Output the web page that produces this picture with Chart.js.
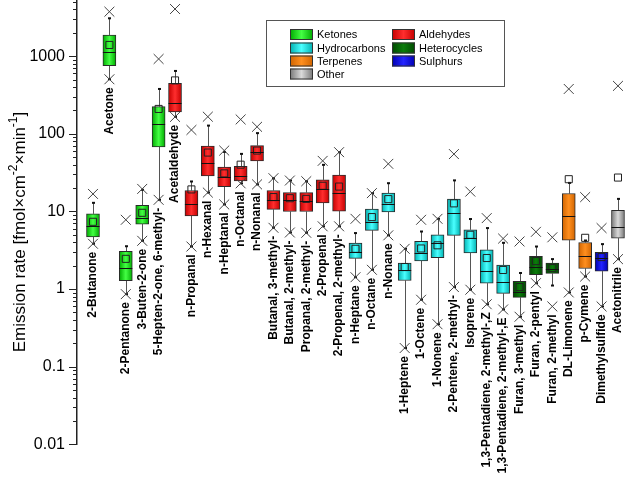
<!DOCTYPE html>
<html lang="en">
<head>
<meta charset="UTF-8" />
<title>Emission rate</title>
<script src="https://cdn.jsdelivr.net/npm/chart.js"></script>
<style>
  body { margin: 0; background: #fff; }
  canvas { display: block; }
</style>
</head>
<body>
<canvas id="chart" width="627" height="479"></canvas>
<script>
const categories = [
  "2-Butanone", "Acetone", "2-Pentanone", "3-Buten-2-one", "5-Hepten-2-one, 6-methyl-",
  "Acetaldehyde", "n-Propanal", "n-Hexanal", "n-Heptanal", "n-Octanal", "n-Nonanal",
  "Butanal, 3-methyl-", "Butanal, 2-methyl-", "Propanal, 2-methyl-", "2-Propenal", "2-Propenal, 2-methyl-",
  "n-Heptane", "n-Octane", "n-Nonane", "1-Heptene", "1-Octene", "1-Nonene",
  "2-Pentene, 2-methyl-", "Isoprene", "1,3-Pentadiene, 2-methyl-,Z", "1,3-Pentadiene, 2-methyl-,E",
  "Furan, 3-methyl", "Furan, 2-pentyl", "Furan, 2-methyl",
  "DL-Limonene", "p-Cymene", "Dimethylsulfide", "Acetonitrile"
];
const groups = [
  "Ketones", "Ketones", "Ketones", "Ketones", "Ketones",
  "Aldehydes", "Aldehydes", "Aldehydes", "Aldehydes", "Aldehydes", "Aldehydes",
  "Aldehydes", "Aldehydes", "Aldehydes", "Aldehydes", "Aldehydes",
  "Hydrocarbons", "Hydrocarbons", "Hydrocarbons", "Hydrocarbons", "Hydrocarbons", "Hydrocarbons",
  "Hydrocarbons", "Hydrocarbons", "Hydrocarbons", "Hydrocarbons",
  "Heterocycles", "Heterocycles", "Heterocycles",
  "Terpenes", "Terpenes", "Sulphurs", "Other"
];
// crosses (high / low), whisker ends, box edges, median and mean
const p99 =         [16.8, 3740, 7.8, 19.5, 920, 4050, 112, 166, 60.8, 153, 123, 26.8, 25.0, 24.5, 44.8, 58, 8.03, 17.2, 41.0, 3.30, 7.8, 8.03, 54.8, 18.0, 8.2, 4.47, 4.10, 5.46, 4.64, 378, 15.3, 6.1, 414];
const whiskerHigh = [12.9, 3075, 3.56, 19.0, 378, 645, 24.3, 127.5, 58.5, 55.1, 102, 26.8, 25.0, 24.5, 39.8, 58, 5.26, 17.2, 23.1, 3.30, 5.51, 8.03, 25.1, 7.98, 6.1, 3.94, 1.61, 3.53, 2.43, 23.3, 4.22, 3.79, 14.5];
const q3 =          [9.31, 1875, 3.05, 12.0, 224, 448, 18.6, 69.2, 37.2, 38.1, 70.5, 18.6, 17.5, 17.5, 25.5, 29.3, 3.91, 10.7, 17.2, 2.16, 4.12, 5.0, 14.4, 5.80, 3.2, 2.04, 1.26, 2.63, 2.16, 17.0, 3.98, 2.98, 10.3];
const median =      [6.53, 1122, 1.88, 8.27, 133, 248, 12.5, 41.9, 27.9, 28.7, 57.6, 13.9, 14.0, 13.8, 19.4, 17.4, 2.98, 7.35, 12.3, 1.77, 2.91, 3.88, 9.51, 4.57, 1.72, 1.22, 0.904, 1.95, 1.81, 8.78, 2.68, 2.48, 6.34];
const q1 =          [4.71, 755, 1.28, 6.87, 67.8, 191, 8.78, 28.7, 20.9, 24.8, 44.8, 10.6, 9.97, 9.97, 12.9, 10.1, 2.48, 5.71, 9.88, 1.29, 2.31, 2.53, 4.92, 2.91, 1.19, 0.878, 0.78, 1.53, 1.59, 4.27, 1.84, 1.70, 4.53];
const whiskerLow =  [3.83, 504, 0.86, 4.18, 14.1, 165, 3.53, 17.5, 12.3, 23.0, 22.3, 6.15, 5.35, 5.3, 6.43, 6.43, 1.42, 1.77, 4.92, 0.174, 0.728, 0.352, 1.06, 0.98, 0.637, 0.546, 0.44, 1.19, 1.11, 0.904, 1.45, 0.597, 2.43];
const p1 =          [3.83, 504, 0.86, 4.18, 14.1, 165, 3.53, 17.5, 12.3, 23.0, 22.3, 6.15, 5.35, 5.3, 6.43, 6.43, 1.42, 1.77, 4.92, 0.174, 0.728, 0.352, 1.06, 0.98, 0.637, 0.546, 0.44, 1.19, 0.597, 0.904, 1.45, 0.597, 2.43];
const meanVals =    [7.35, 1394, 2.45, 9.6, 209, 487, 19.2, 57.3, 30.9, 40.0, 60.8, 15.3, 14.8, 14.5, 21.4, 20.9, 3.30, 8.45, 14.4, 1.92, 3.33, 3.66, 12.7, 5.0, 2.51, 1.76, 1.06, 2.29, 1.86, 26.0, 4.57, 2.58, 27.3];
const yTicks = [0.01, 0.1, 1, 10, 100, 1000];
const legendCol1 = ["Ketones", "Hydrocarbons", "Terpenes", "Other"];
const legendCol2 = ["Aldehydes", "Heterocycles", "Sulphurs"];

const FONT = "Arial, 'Liberation Sans', sans-serif";
// [edge, centre] colours for the shaded boxes
const groupColors = {
  Ketones: ['#00aa00', '#44ff44'],
  Aldehydes: ['#c40000', '#ff2e2e'],
  Hydrocarbons: ['#00b0b0', '#4affff'],
  Terpenes: ['#d06400', '#ff8f1f'],
  Heterocycles: ['#004a00', '#0b7d0b'],
  Sulphurs: ['#0000b0', '#2424ff'],
  Other: ['#787878', '#dadada']
};
const BOX_W = 13;

function shade(ctx, x0, x1, group) {
  const c = groupColors[group];
  const g = ctx.createLinearGradient(x0, 0, x1, 0);
  g.addColorStop(0, c[0]);
  g.addColorStop(0.5, c[1]);
  g.addColorStop(1, c[0]);
  return g;
}

const boxExtras = {
  id: 'boxExtras',
  beforeDatasetsDraw(chart) {
    const { ctx, scales: { x, y } } = chart;
    ctx.save();
    ctx.strokeStyle = '#555';
    ctx.lineWidth = 1;
    categories.forEach((c, i) => {
      const px = Math.round(x.getPixelForValue(i)) + 0.5;
      const yh = y.getPixelForValue(whiskerHigh[i]);
      const yl = y.getPixelForValue(whiskerLow[i]);
      ctx.beginPath();
      ctx.moveTo(px, y.getPixelForValue(q3[i]));
      ctx.lineTo(px, yh);
      ctx.moveTo(px, y.getPixelForValue(q1[i]));
      ctx.lineTo(px, yl);
      ctx.stroke();
      ctx.fillStyle = '#111';
      ctx.fillRect(px - 1.5, yh - 1, 3, 2);
      ctx.fillRect(px - 1.5, yl - 1, 3, 2);
    });
    ctx.restore();
  },
  afterDatasetsDraw(chart) {
    const { ctx, scales: { x, y } } = chart;
    ctx.save();

    // median lines
    ctx.strokeStyle = '#111';
    ctx.lineWidth = 1;
    categories.forEach((c, i) => {
      const px = x.getPixelForValue(i);
      const py = Math.round(y.getPixelForValue(median[i])) + 0.5;
      ctx.beginPath();
      ctx.moveTo(px - BOX_W / 2, py);
      ctx.lineTo(px + BOX_W / 2, py);
      ctx.stroke();
    });

    // category names under each box
    ctx.fillStyle = '#000';
    ctx.font = 'bold 12px ' + FONT;
    ctx.textAlign = 'right';
    ctx.textBaseline = 'middle';
    categories.forEach((c, i) => {
      const px = x.getPixelForValue(i);
      const py = y.getPixelForValue(Math.min(p1[i], whiskerLow[i])) + 8;
      ctx.save();
      ctx.translate(px, py);
      ctx.rotate(-Math.PI / 2);
      ctx.fillText(c, 0, 0);
      ctx.restore();
    });

    // log ticks, major and minor
    const ax = chart.chartArea.left;
    ctx.strokeStyle = '#222';
    ctx.lineWidth = 1;
    for (let n = -2; n <= 3; n++) {
      for (let k = 1; k <= 9; k++) {
        const v = k * Math.pow(10, n);
        if (v < y.min || v > y.max) continue;
        const py = Math.round(y.getPixelForValue(v)) + 0.5;
        const len = k === 1 ? 8 : 4;
        ctx.beginPath();
        ctx.moveTo(ax - len, py);
        ctx.lineTo(ax, py);
        ctx.stroke();
      }
    }

    // axis title with superscripts
    const parts = [
      ['Emission rate [fmol\u00d7cm', false], ['-2', true],
      ['\u00d7min', false], ['-1', true], [']', false]
    ];
    const fontN = '17px ' + FONT, fontS = '12px ' + FONT;
    let total = 0;
    parts.forEach(p => { ctx.font = p[1] ? fontS : fontN; total += ctx.measureText(p[0]).width; });
    ctx.save();
    ctx.translate(25, 232);
    ctx.rotate(-Math.PI / 2);
    ctx.textAlign = 'left';
    ctx.textBaseline = 'alphabetic';
    let tx = -total / 2;
    parts.forEach(p => {
      ctx.font = p[1] ? fontS : fontN;
      ctx.fillText(p[0], tx, p[1] ? -8 : 0);
      tx += ctx.measureText(p[0]).width;
    });
    ctx.restore();

    // legend
    ctx.strokeStyle = '#555';
    ctx.strokeRect(266.5, 20.5, 238, 66);
    ctx.font = '11px ' + FONT;
    ctx.textAlign = 'left';
    ctx.textBaseline = 'middle';
    const rows = [34.5, 48, 61, 74];
    [[legendCol1, 290], [legendCol2, 392]].forEach(([names, sx]) => {
      names.forEach((name, r) => {
        const top = rows[r] - 5.5;
        ctx.fillStyle = shade(ctx, sx, sx + 23, name);
        ctx.fillRect(sx, top, 23, 11);
        ctx.strokeStyle = '#333';
        ctx.strokeRect(sx + 0.5, top + 0.5, 22, 10);
        ctx.fillStyle = '#000';
        ctx.fillText(name, sx + 27, rows[r] + 0.5);
      });
    });

    ctx.restore();
  }
};

const pts = arr => arr.map((v, i) => ({ x: i, y: v }));

new Chart(document.getElementById('chart'), {
  type: 'bar',
  data: {
    datasets: [
      {
        type: 'scatter',
        data: pts(meanVals),
        pointStyle: 'rect',
        radius: 5,
        backgroundColor: 'rgba(0,0,0,0)',
        borderColor: '#222',
        borderWidth: 1
      },
      {
        type: 'scatter',
        data: pts(p99),
        pointStyle: 'crossRot',
        radius: 7,
        borderColor: '#444',
        borderWidth: 1
      },
      {
        type: 'scatter',
        data: pts(p1),
        pointStyle: 'crossRot',
        radius: 7,
        borderColor: '#444',
        borderWidth: 1
      },
      {
        data: categories.map((c, i) => ({ x: i, y: [q1[i], q3[i]] })),
        barThickness: BOX_W,
        borderColor: '#2a2a2a',
        borderWidth: 1,
        borderSkipped: false,
        backgroundColor: (ctx) => {
          const chart = ctx.chart;
          if (!chart.chartArea || ctx.dataIndex === undefined) return '#888';
          const px = chart.scales.x.getPixelForValue(ctx.dataIndex);
          return shade(chart.ctx, px - BOX_W / 2, px + BOX_W / 2, groups[ctx.dataIndex]);
        }
      }
    ]
  },
  options: {
    responsive: false,
    animation: false,
    devicePixelRatio: 1,
    events: [],
    layout: { autoPadding: false, padding: { top: 0, right: 0, bottom: 34.7, left: 0 } },
    plugins: { legend: { display: false }, tooltip: { enabled: false } },
    scales: {
      x: {
        type: 'linear',
        min: -0.975,
        max: 32.55,
        bounds: 'data',
        offset: false,
        grace: 0,
        display: false
      },
      y: {
        type: 'logarithmic',
        min: 0.01,
        max: 5290,
        afterBuildTicks: (s) => { s.ticks = yTicks.map(v => ({ value: v, major: true })); },
        afterFit: (s) => {
          s.width = 77;
          s.paddingTop = 0;
          s.paddingBottom = 0;
        },
        grid: { display: false, drawTicks: false, tickLength: 0 },
        border: { display: true, color: '#222', width: 1.5 },
        ticks: {
          autoSkip: false,
          padding: 12,
          color: '#000',
          font: { size: 16, family: FONT },
          callback: (v) => String(v)
        }
      }
    }
  },
  plugins: [boxExtras]
});
</script>
</body>
</html>
